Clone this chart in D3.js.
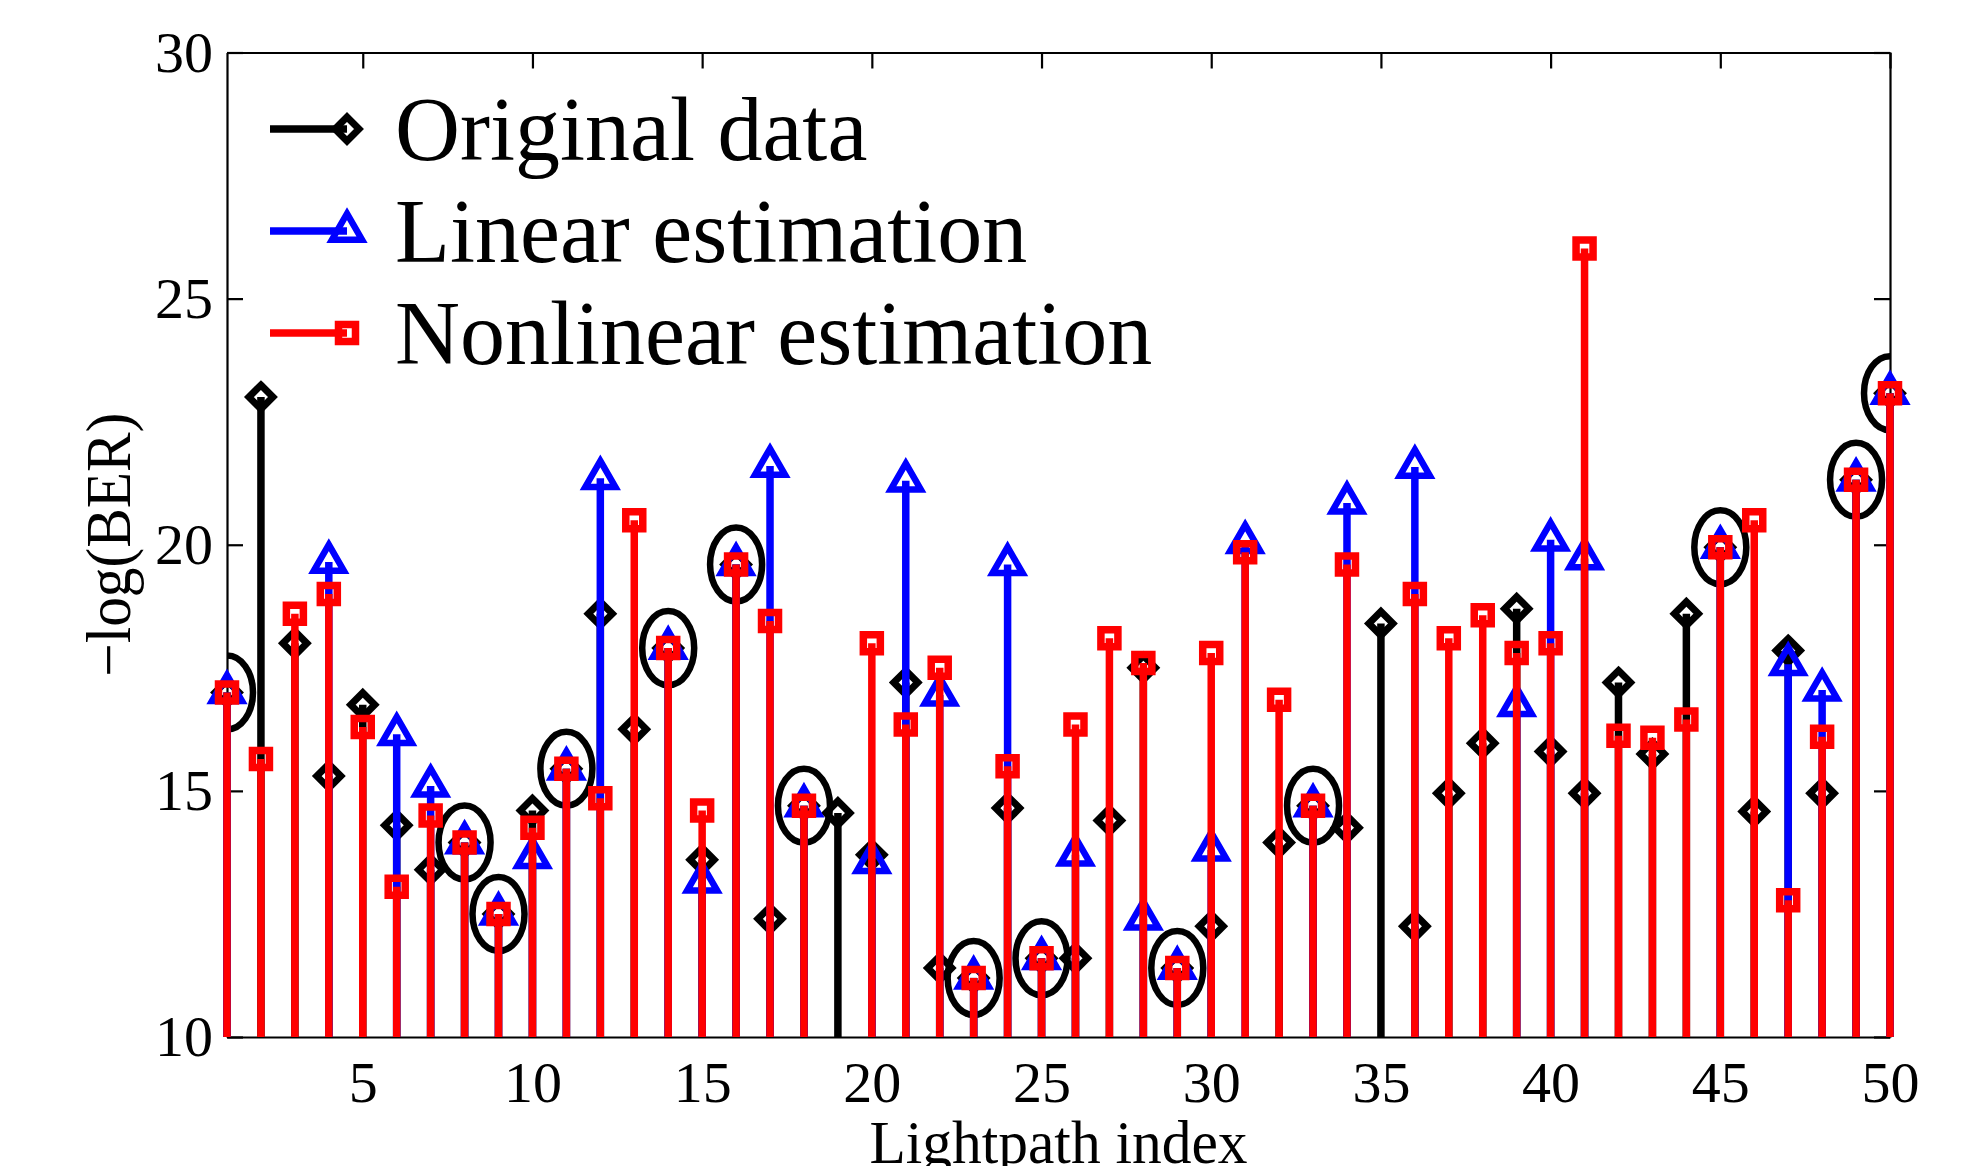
<!DOCTYPE html>
<html>
<head>
<meta charset="utf-8">
<script src="https://cdn.jsdelivr.net/npm/d3@7/dist/d3.min.js"></script>
<style>
body { margin: 0; background: #fff; }
text { font-family: "Liberation Serif", "Times New Roman", serif; fill: #000; }
</style>
</head>
<body>
<div id="chart"></div>
<script>
// lightpath index 1..50
var lightpath = d3.range(1, 51);

// -log(BER) per lightpath, null = below the axis range (not drawn)
var original = [17.0, 23.0, 18.0, 15.3, 16.75, 14.3, 13.4, 13.95, 12.5, 14.6,
    15.45, 18.6, 16.25, 17.9, 13.6, 19.6, 12.4, 14.7, 14.55, 13.7,
    17.2, 11.4, 11.2, 14.65, 11.6, 11.6, 14.4, 17.5, 11.4, 12.25,
    null, 13.95, 14.7, 14.25, 18.4, 12.25, 14.95, 15.97, 18.7, 15.8,
    14.95, 17.2, 15.75, 18.6, 19.95, 14.58, 17.85, 14.95, 21.32, 23.08];

var linear = [17.0, null, null, 19.65, null, 16.15, 15.1, 13.95, 12.5, 13.65,
    15.45, 21.35, null, 17.9, 13.15, 19.6, 21.6, 14.7, null, 13.55,
    21.3, 16.95, 11.2, 19.6, 11.6, 13.7, null, 12.4, 11.4, 13.8,
    20.05, null, 14.7, 20.85, null, 21.58, null, null, 16.74, 20.1,
    19.72, null, null, null, 19.95, null, 17.57, 17.05, 21.32, 23.08];

var nonlinear = [17.0, 15.65, 18.6, 19.0, 16.3, 13.05, 14.5, 13.95, 12.5, 14.25,
    15.45, 14.85, 20.5, 17.9, 14.6, 19.6, 18.45, 14.7, null, 18.0,
    16.35, 17.5, 11.2, 15.5, 11.6, 16.35, 18.1, 17.6, 11.4, 17.8,
    19.85, 16.85, 14.7, 19.6, null, 19.0, 18.1, 18.57, 17.8, 18.0,
    26.02, 16.12, 16.08, 16.45, 19.95, 20.5, 12.78, 16.1, 21.32, 23.08];

// lightpaths where all three agree (ringed)
var circled = [1, 8, 9, 11, 14, 16, 18, 23, 25, 29, 33, 45, 49, 50];

var xTicks = [5, 10, 15, 20, 25, 30, 35, 40, 45, 50];
var yTicks = [10, 15, 20, 25, 30];
var seriesNames = ["Original data", "Linear estimation", "Nonlinear estimation"];
var seriesColors = ["#000000", "#0000ff", "#ff0000"];
var seriesMarkers = ["diamond", "triangle", "square"];

function drawChart() {
    var width = 1969, height = 1166;
    var plotL = 227, plotR = 1890, plotT = 52.5, plotB = 1037;

    var svg = d3.select("#chart").append("svg")
        .attr("width", width)
        .attr("height", height)
        .style("display", "block");

    var x = d3.scaleLinear().domain([1, 50]).range([plotL, plotR]);
    var y = d3.scaleLinear().domain([10, 30]).range([plotB, plotT]);

    svg.append("defs").append("clipPath")
        .attr("id", "plotclip")
        .append("rect")
        .attr("x", plotL).attr("y", plotT)
        .attr("width", plotR - plotL).attr("height", plotB - plotT);

    // axes box with inward ticks
    function styleAxis(g) {
        g.attr("font-size", 58)
            .attr("font-family", '"Liberation Serif", "Times New Roman", serif');
        g.selectAll("path.domain").attr("stroke", "#000").attr("stroke-width", 2.2);
        g.selectAll(".tick line").attr("stroke", "#000").attr("stroke-width", 2.2);
        g.selectAll(".tick text").attr("fill", "#000");
    }

    svg.append("g")
        .attr("transform", "translate(0," + plotB + ")")
        .call(d3.axisBottom(x).tickValues(xTicks).tickSizeInner(-16).tickSizeOuter(0).tickPadding(24))
        .call(styleAxis);
    svg.append("g")
        .attr("transform", "translate(0," + plotT + ")")
        .call(d3.axisTop(x).tickValues(xTicks).tickSizeInner(-16).tickSizeOuter(0).tickFormat(""))
        .call(styleAxis);
    svg.append("g")
        .attr("transform", "translate(" + plotL + ",0)")
        .call(d3.axisLeft(y).tickValues(yTicks).tickSizeInner(-16).tickSizeOuter(0).tickPadding(14))
        .call(styleAxis);
    svg.append("g")
        .attr("transform", "translate(" + plotR + ",0)")
        .call(d3.axisRight(y).tickValues(yTicks).tickSizeInner(-16).tickSizeOuter(0).tickFormat(""))
        .call(styleAxis);

    // axis titles
    svg.append("text")
        .attr("x", (plotL + plotR) / 2)
        .attr("y", 1163)
        .attr("text-anchor", "middle")
        .attr("font-size", 62)
        .attr("textLength", 378)
        .attr("lengthAdjust", "spacingAndGlyphs")
        .text("Lightpath index");

    svg.append("text")
        .attr("transform", "translate(130," + ((plotT + plotB) / 2) + ") rotate(-90)")
        .attr("text-anchor", "middle")
        .attr("font-size", 64)
        .attr("textLength", 264)
        .attr("lengthAdjust", "spacingAndGlyphs")
        .text("\u2212log(BER)");

    // ellipses around matching points
    svg.append("g")
        .attr("clip-path", "url(#plotclip)")
        .selectAll("ellipse")
        .data(circled)
        .enter()
        .append("ellipse")
        .attr("cx", d => x(d))
        .attr("cy", d => y(original[d - 1]))
        .attr("rx", 26)
        .attr("ry", 37)
        .attr("fill", "none")
        .attr("stroke", "#000")
        .attr("stroke-width", 6.5);

    function markerPath(kind) {
        if (kind === "diamond") return "M0,-12L12,0L0,12L-12,0Z";
        if (kind === "square") return d3.symbol().type(d3.symbolSquare).size(17 * 17)();
        return d3.symbol().type(d3.symbolTriangle).size(Math.sqrt(3) / 4 * 30 * 30)();
    }

    function markerWidth(kind) {
        if (kind === "square") return 7.5;
        if (kind === "diamond") return 7;
        return 6.5;
    }

    // stems, drawn in series order so red ends on top
    [original, linear, nonlinear].forEach(function(values, s) {
        var pts = lightpath
            .map((d, i) => ({ idx: d, v: values[i] }))
            .filter(d => d.v !== null);
        var g = svg.append("g").attr("class", "series-" + s);

        g.selectAll("line")
            .data(pts)
            .enter()
            .append("line")
            .attr("x1", d => x(d.idx))
            .attr("x2", d => x(d.idx))
            .attr("y1", y(10))
            .attr("y2", d => y(d.v))
            .attr("stroke", seriesColors[s])
            .attr("stroke-width", 7.5);

        g.selectAll("path")
            .data(pts)
            .enter()
            .append("path")
            .attr("d", markerPath(seriesMarkers[s]))
            .attr("transform", d => "translate(" + x(d.idx) + "," + y(d.v) + ")")
            .attr("fill", "none")
            .attr("stroke", seriesColors[s])
            .attr("stroke-width", markerWidth(seriesMarkers[s]));
    });

    // legend
    var legend = svg.append("g");
    seriesNames.forEach(function(name, s) {
        var ly = 129 + s * 102;
        legend.append("line")
            .attr("x1", 270).attr("x2", 347)
            .attr("y1", ly).attr("y2", ly)
            .attr("stroke", seriesColors[s])
            .attr("stroke-width", 7.5);
        legend.append("path")
            .attr("d", markerPath(seriesMarkers[s]))
            .attr("transform", "translate(347," + ly + ")")
            .attr("fill", "none")
            .attr("stroke", seriesColors[s])
            .attr("stroke-width", markerWidth(seriesMarkers[s]));
        legend.append("text")
            .attr("x", 395)
            .attr("y", ly + 31)
            .attr("font-size", 90)
            .text(name);
    });
}

drawChart();
</script>
</body>
</html>
